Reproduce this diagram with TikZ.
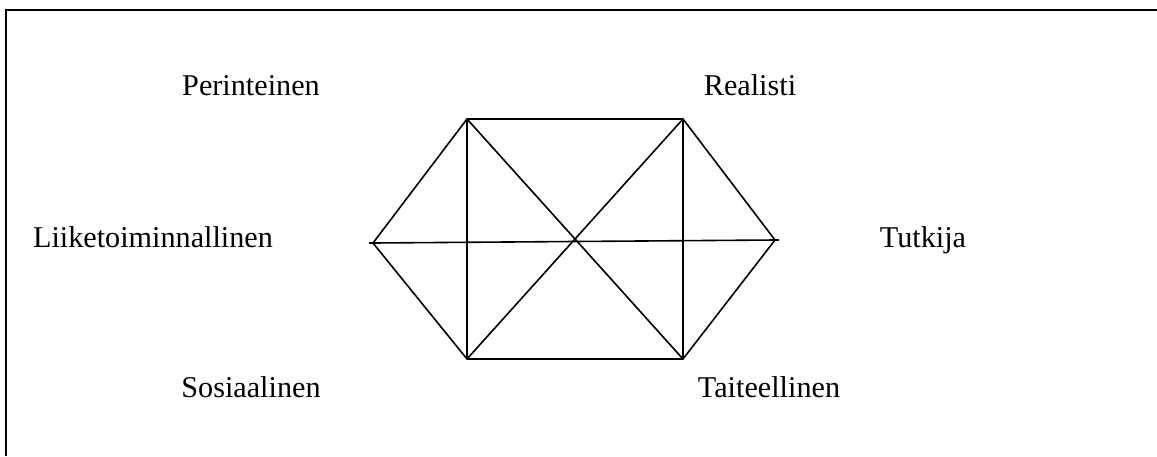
\documentclass[tikz,border=0pt]{standalone}
\usepackage{fontspec}
\setmainfont{Liberation Serif}
\usetikzlibrary{positioning}

\begin{document}
\begin{tikzpicture}[x=0.5pt, y=-0.5pt, font=\fontsize{15.1}{17}\selectfont,
  edge/.style={line width=0.8pt},
  frame/.style={line width=1.2pt},
  lbl/.style={anchor=base, inner sep=0pt}]
  \useasboundingbox (0,0) rectangle (1157,456);
  % open frame (top and left only)
  \coordinate (ftr) at (1157,10);
  \coordinate (ftl) at (6,10);
  \coordinate (fbl) at (6,456);
  \draw[frame] (ftr) -- (ftl) -- (fbl);
  % hexagon corners
  \coordinate (tl) at (467,119);
  \coordinate (tr) at (683,119);
  \coordinate (l)  at (373,243);
  \coordinate (r)  at (775,240);
  \coordinate (bl) at (467,359);
  \coordinate (br) at (683,359);
  % labels
  \node[lbl] (per) at (251,95)  {Perinteinen};
  \node[lbl] (rea) at (750,95)  {Realisti};
  \node[lbl] (lii) at (153,247) {Liiketoiminnallinen};
  \node[lbl] (tut) at (923,247) {Tutkija};
  \node[lbl] (sos) at (251,397) {Sosiaalinen};
  \node[lbl] (tai) at (769,397) {Taiteellinen};
  % outline
  \draw[edge] (tl) -- (tr) -- (r) -- (br) -- (bl) -- (l) -- cycle;
  % inner lines
  \draw[edge] (tl) -- (bl);
  \draw[edge] (tr) -- (br);
  \draw[edge] (tl) -- (br);
  \draw[edge] (tr) -- (bl);
  \draw[edge, shorten <=-2pt, shorten >=-2pt] (l) -- (r);
\end{tikzpicture}
\end{document}
